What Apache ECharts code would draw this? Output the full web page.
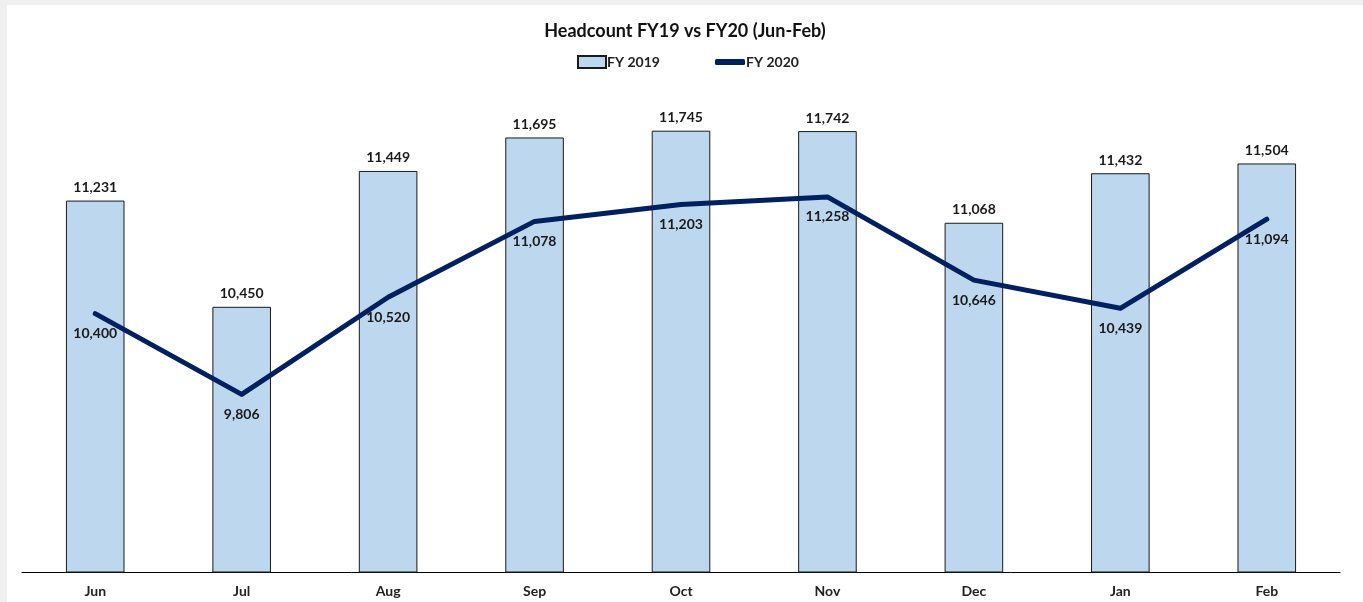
<!DOCTYPE html>
<html><head><meta charset="utf-8">
<script src="https://cdn.jsdelivr.net/npm/echarts@6/dist/echarts.min.js"></script>
<style>
html,body{margin:0;padding:0;background:#f0f0f0;}
#c{position:absolute;left:7px;top:5px;width:1356px;height:597px;background:#fff;}
</style></head>
<body><div id="c"></div>
<script>
const categories = ['Jun','Jul','Aug','Sep','Oct','Nov','Dec','Jan','Feb'];
const fy2019 = [11231,10450,11449,11695,11745,11742,11068,11432,11504];
const fy2020 = [10400,9806,10520,11078,11203,11258,10646,10439,11094];
const yMin = 8500, yMax = 12000;

const fmt = v => v.toLocaleString('en-US');
const font = 'Lato, "Open Sans", sans-serif';
const lblStyle = {fontSize:14,fontWeight:'bold',color:'#1a1a1a',opacity:1};
const chart = echarts.init(document.getElementById('c'));
chart.setOption({
  animation:false,
  textStyle:{fontFamily:font},
  title:{text:'Headcount FY19 vs FY20 (Jun-Feb)',left:'center',top:12,
    textStyle:{fontSize:18,fontWeight:'bold',color:'#111',fontFamily:font}},
  legend:[
    {left:565,top:45,itemWidth:28,itemHeight:12,icon:'rect',
     textStyle:{fontSize:14,fontWeight:'bold',color:'#222',padding:[0,0,0,-4]},
     data:['FY 2019']},
    {left:703,top:45,itemWidth:30,itemHeight:6,icon:'roundRect',
     textStyle:{fontSize:14,fontWeight:'bold',color:'#222',padding:[0,0,0,-4]},
     data:['FY 2020']}
  ],
  grid:{left:15,right:23,top:91,bottom:30},
  xAxis:{type:'category',data:categories,
    axisLine:{lineStyle:{color:'#000',width:1}},axisTick:{show:false},
    axisLabel:{fontSize:14,fontWeight:'bold',color:'#222',margin:12}},
  yAxis:{type:'value',min:yMin,max:yMax,show:false,splitLine:{show:false}},
  series:[
    {name:'FY 2019',type:'bar',data:fy2019,barWidth:'40%',
     itemStyle:{color:'#BDD7EE',borderColor:'#1a1a1a',borderWidth:1},
     label:Object.assign({show:true,position:'top',distance:6,formatter:p=>fmt(p.value)},lblStyle)},
    {name:'FY 2020',type:'line',data:fy2020,symbol:'none',z:2,
     lineStyle:{color:'#002060',width:5,cap:'round',join:'round'},itemStyle:{color:'#002060'}},
    {name:'FY 2020 labels',type:'scatter',data:fy2020,symbolSize:0,z:3,
     itemStyle:{color:'#002060'},silent:true,
     label:Object.assign({show:true,position:'bottom',distance:13,formatter:p=>fmt(p.value)},lblStyle)}
  ]
});
</script></body></html>
